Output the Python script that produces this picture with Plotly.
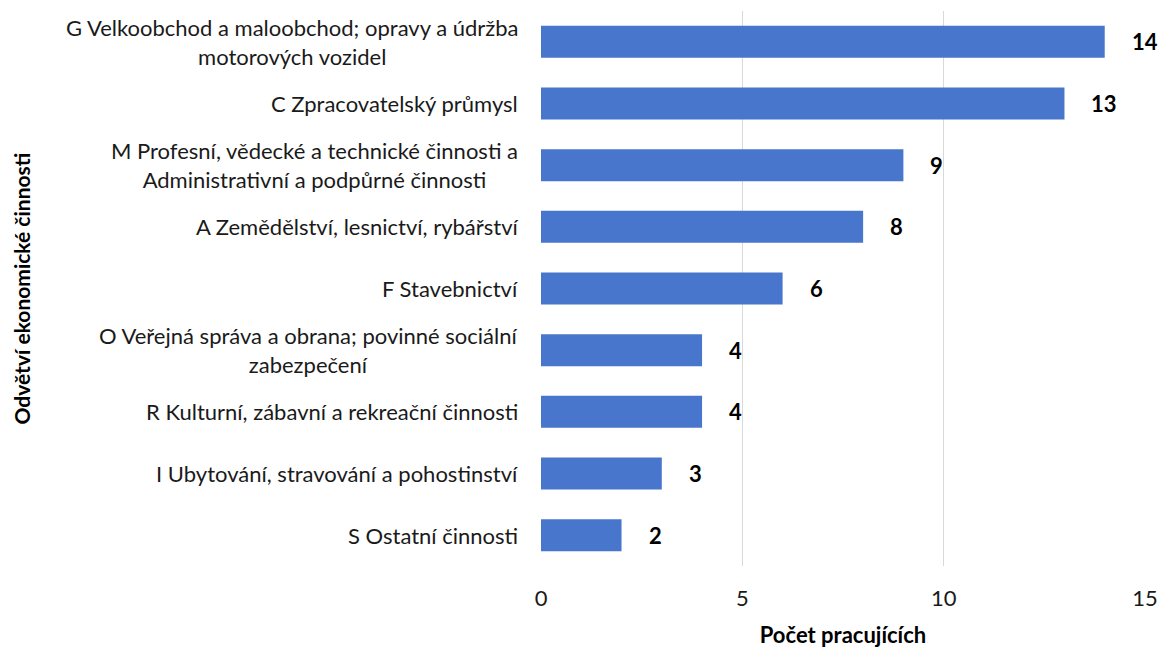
import plotly.graph_objects as go

categories = [
    "G Velkoobchod a maloobchod; opravy a údržba<br>motorových vozidel",
    "C Zpracovatelský průmysl",
    "M Profesní, vědecké a technické činnosti a<br>Administrativní a podpůrné činnosti",
    "A Zemědělství, lesnictví, rybářství",
    "F Stavebnictví",
    "O Veřejná správa a obrana; povinné sociální<br>zabezpečení",
    "R Kulturní, zábavní a rekreační činnosti",
    "I Ubytování, stravování a pohostinství",
    "S Ostatní činnosti",
]
values = [14, 13, 9, 8, 6, 4, 4, 3, 2]
x_ticks = [0, 5, 10, 15]
x_title = "Počet pracujících"
y_title = "Odvětví ekonomické činnosti"

FONT = "Lato"
FS = 22
keys = [c.replace("<br>", " ") for c in categories]

fig = go.Figure()
fig.add_trace(go.Bar(
    x=values, y=keys, orientation="h",
    marker=dict(color="#4976cd", line=dict(width=0)),
    hoverinfo="x+y",
))

annotations = []
for k, v in zip(keys, values):
    annotations.append(dict(
        x=v, y=k, xref="x", yref="y", text=f"<b>{v}</b>", showarrow=False,
        xanchor="left", xshift=25, font=dict(family=FONT, size=FS, color="#000000"),
    ))
for c, k in zip(categories, keys):
    annotations.append(dict(
        x=0, y=k, xref="paper", yref="y", text=c, showarrow=False,
        xanchor="right", align="center", xshift=-21,
        font=dict(family=FONT, size=FS, color="#1a1a1a"),
    ))
annotations.append(dict(
    x=0, y=0.5, xref="paper", yref="paper", xshift=-520, text=f"<b>{y_title}</b>",
    textangle=-90, showarrow=False, xanchor="center", yanchor="middle",
    font=dict(family=FONT, size=21, color="#000"),
))

fig.update_layout(
    width=1166, height=648,
    margin=dict(l=533, r=29, t=3, b=90),
    paper_bgcolor="white", plot_bgcolor="white",
    bargap=0.48,
    showlegend=False,
    annotations=annotations,
    font=dict(family=FONT, size=FS, color="#1a1a1a"),
    xaxis=dict(
        range=[0, 15], tickvals=x_ticks, showgrid=True, gridcolor="#d9d9d9",
        gridwidth=1, zeroline=False, showline=False,
        tickfont=dict(family=FONT, size=FS, color="#1a1a1a"),
        ticks="outside", ticklen=13, tickcolor="rgba(0,0,0,0)",
        title=dict(text=f"<b>{x_title}</b>", font=dict(family=FONT, size=FS, color="#000"), standoff=17),
    ),
    yaxis=dict(
        categoryorder="array", categoryarray=keys, autorange="reversed",
        showticklabels=False, showgrid=False, zeroline=False, showline=False,
        ticks="",
    ),
)

fig.write_html("out.html")
